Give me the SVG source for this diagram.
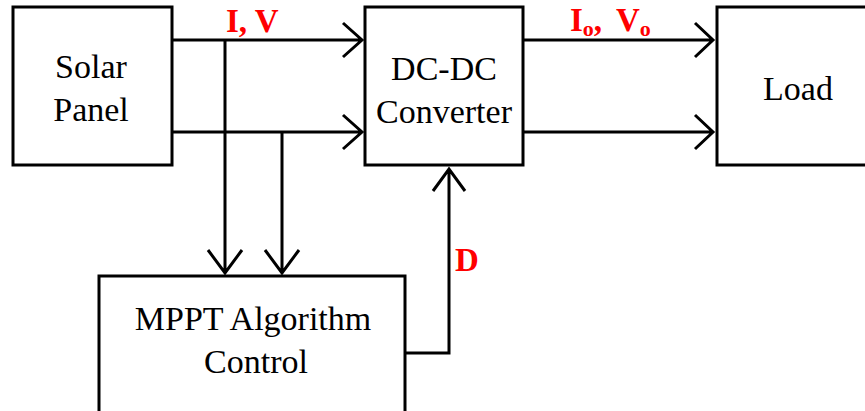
<svg xmlns="http://www.w3.org/2000/svg" width="865" height="411" viewBox="0 0 865 411">
<style>
.box{fill:#fff;stroke:#000;stroke-width:3}
.ln{fill:none;stroke:#000;stroke-width:3}
.t{font-family:"Liberation Serif",serif;font-size:34px;fill:#000;text-anchor:middle}
.lb{font-family:"Liberation Serif",serif;font-size:33px;font-weight:bold;fill:#f00}
.sub{font-size:22px}
</style>
<rect width="865" height="411" fill="#fff"/>
<g id="connectors">
<path class="ln" d="M172 40H362M343 23L362 40L343 57"/>
<path class="ln" d="M172 132H362M343 115L362 132L343 149"/>
<path class="ln" d="M523 40H713M695 23L713 40L695 57"/>
<path class="ln" d="M523 132H713M695 115L713 132L695 149"/>
<path class="ln" d="M225 40V273M208 250L225 273L242 250"/>
<path class="ln" d="M282 132V273M265 250L282 273L299 250"/>
<path class="ln" d="M405 353H449V169M433 191L449 169L465 191"/>
<text class="lb" x="226" y="32">I, V</text>
<text class="lb" x="570" y="31">I<tspan class="sub" y="36">o</tspan><tspan y="31">,</tspan></text>
<text class="lb" x="616" y="31">V<tspan class="sub" y="36">o</tspan></text>
<text class="lb" x="455" y="271">D</text>
</g>
<g id="solar">
<rect class="box" x="13" y="7" width="159" height="158"/>
<text class="t" x="91" y="78">Solar</text>
<text class="t" x="91" y="121">Panel</text>
</g>
<g id="dcdc">
<rect class="box" x="365" y="7" width="158" height="158"/>
<text class="t" x="444" y="80">DC-DC</text>
<text class="t" x="444" y="123">Converter</text>
</g>
<g id="load">
<rect class="box" x="717" y="7" width="160" height="158"/>
<text class="t" x="798" y="100">Load</text>
</g>
<g id="mppt">
<rect class="box" x="99" y="276" width="306" height="150"/>
<text class="t" x="253" y="330">MPPT Algorithm</text>
<text class="t" x="256" y="373">Control</text>
</g>
</svg>
